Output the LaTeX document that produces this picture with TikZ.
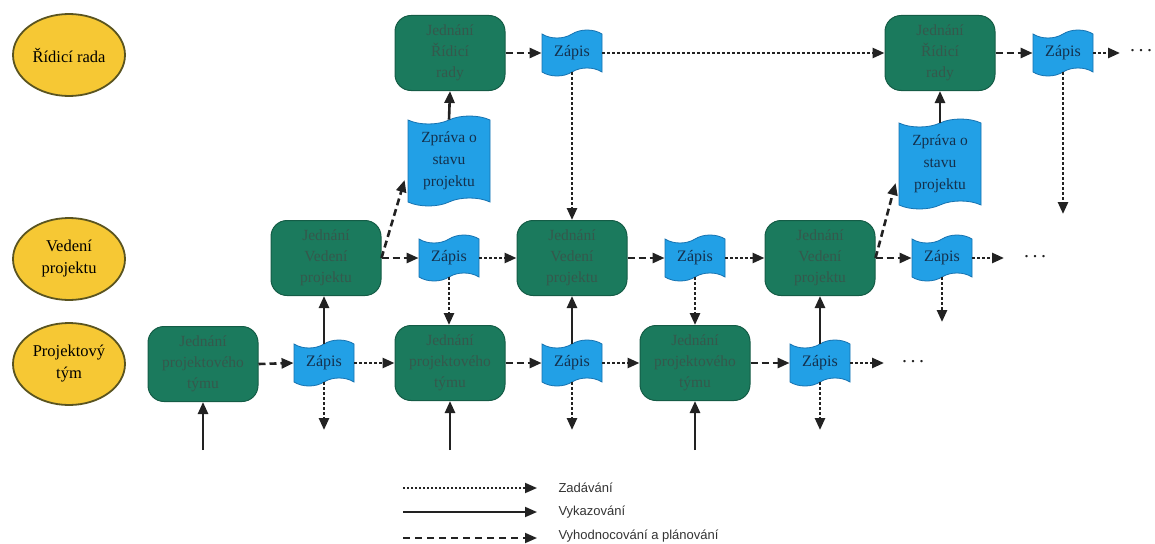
\documentclass[tikz,border=0pt]{standalone}
\usepackage{fontspec}
\setmainfont{Liberation Serif}
\setsansfont{Liberation Sans}
\usetikzlibrary{shapes.geometric,shapes.symbols,arrows.meta,calc}

\definecolor{rolefill}{HTML}{F6C834}
\definecolor{roleline}{HTML}{5A5420}
\definecolor{meetfill}{HTML}{1B7A5D}
\definecolor{meetline}{HTML}{145C46}
\definecolor{meettext}{HTML}{35584C}
\definecolor{docfill}{HTML}{22A0E6}
\definecolor{docline}{HTML}{1672B0}
\definecolor{doctext}{HTML}{14304C}
\definecolor{wire}{HTML}{222222}

\newcommand{\spaceddots}{.\hspace{3.5pt}.\hspace{3.5pt}.}

\begin{document}
\begin{tikzpicture}[x=1pt,y=-1pt,
  role/.style={ellipse, draw=roleline, line width=1.8pt, fill=rolefill,
    minimum width=112pt, minimum height=82pt, inner sep=0pt, align=center,
    font=\fontsize{16.5}{22}\selectfont},
  meeting/.style={rectangle, rounded corners=16pt, draw=meetline, line width=1pt,
    fill=meetfill, minimum width=110pt, minimum height=75pt, inner sep=0pt,
    align=center, text=meettext, font=\fontsize{15.5}{21}\selectfont},
  record/.style={tape, draw=docline, fill=docfill, line width=0.8pt,
    minimum width=60pt, minimum height=46pt, inner sep=0pt, tape bend height=8pt,
    text=doctext, font=\fontsize{16}{18}\selectfont},
  statusdoc/.style={record, minimum width=82pt, minimum height=90pt, align=center,
    font=\fontsize{15.5}{22}\selectfont},
  more/.style={font=\fontsize{20}{20}\selectfont, text=wire},
  tip/.style={draw=wire, line width=2.6pt, -{Triangle[length=12pt,width=10pt]}},
  assign/.style={tip, dash pattern=on 2.6pt off 2.4pt},
  submit/.style={tip},
  review/.style={tip, dash pattern=on 7pt off 4pt},
  keytext/.style={anchor=west, font=\sffamily\fontsize{13}{13}\selectfont, text=black!80}
]
\useasboundingbox (0,0) rectangle (1155,543);

% levels of the project organisation
\node[role] (board) at (69,55)  {Řídicí rada};
\node[role] (lead)  at (69,259) {Vedení\\projektu};
\node[role] (team)  at (69,364) {Projektový\\tým};

% steering board row
\node[meeting] (R1) at (450,53) {Jednání\\Řídicí\\rady};
\node[record]  (t1) at (572,53) {Zápis};
\node[meeting] (R2) at (940,53) {Jednání\\Řídicí\\rady};
\node[record]  (t2) at (1063,53) {Zápis};
\node[more]    (more1) at (1141,51) {\spaceddots};

% status reports
\node[statusdoc] (Z1) at (449,161) {Zpráva o\\stavu\\projektu};
\node[statusdoc] (Z2) at (940,164) {Zpráva o\\stavu\\projektu};

% project management row
\node[meeting] (V1) at (326,258) {Jednání\\Vedení\\projektu};
\node[record]  (m1) at (449,258) {Zápis};
\node[meeting] (V2) at (572,258) {Jednání\\Vedení\\projektu};
\node[record]  (m2) at (695,258) {Zápis};
\node[meeting] (V3) at (820,258) {Jednání\\Vedení\\projektu};
\node[record]  (m3) at (942,258) {Zápis};
\node[more]    (more2) at (1035,257) {\spaceddots};

% project team row
\node[meeting] (P1) at (203,364) {Jednání\\projektového\\týmu};
\node[record]  (b1) at (324,363) {Zápis};
\node[meeting] (P2) at (450,363) {Jednání\\projektového\\týmu};
\node[record]  (b2) at (572,363) {Zápis};
\node[meeting] (P3) at (695,363) {Jednání\\projektového\\týmu};
\node[record]  (b3) at (820,363) {Zápis};
\node[more]    (more3) at (913,362) {\spaceddots};

% loose ends
\coordinate (in1) at (203,450);
\coordinate (in2) at (450,450);
\coordinate (in3) at (695,450);
\coordinate (out1) at (324,430);
\coordinate (out2) at (572,430);
\coordinate (out3) at (820,430);
\coordinate (out4) at (942,322);
\coordinate (out5) at (1063,214);
\coordinate (end1) at (1120,53);
\coordinate (end2) at (1004,258);
\coordinate (end3) at (884,363);

% team level
\draw[submit] (in1) -- (P1.south);
\draw[review] (P1.east) -- (b1.west);
\draw[assign] (b1.east) -- (P2.west);
\draw[assign] (b1.south) -- (out1);
\draw[submit] (b1.north) -- (b1.north |- V1.south);
\draw[submit] (in2) -- (P2.south);
\draw[review] (P2.east) -- (b2.west);
\draw[assign] (b2.east) -- (P3.west);
\draw[assign] (b2.south) -- (out2);
\draw[submit] (b2.north) -- (V2.south);
\draw[submit] (in3) -- (P3.south);
\draw[review] (P3.east) -- (b3.west);
\draw[assign] (b3.east) -- (end3);
\draw[assign] (b3.south) -- (out3);
\draw[submit] (b3.north) -- (V3.south);

% management level
\draw[review] (V1.east) -- (m1.west);
\draw[review] (V1.east) -- ($(Z1.south west)+(-3,-22)$);
\draw[assign] (m1.east) -- (V2.west);
\draw[assign] (m1.south) -- (m1.south |- P2.north);
\draw[review] (V2.east) -- (m2.west);
\draw[assign] (m2.east) -- (V3.west);
\draw[assign] (m2.south) -- (P3.north);
\draw[review] (V3.east) -- (m3.west);
\draw[review] (V3.east) -- ($(Z2.south west)+(-3,-22)$);
\draw[assign] (m3.east) -- (end2);
\draw[assign] (m3.south) -- (out4);

% steering level
\draw[submit] (Z1.north) -- (R1.south);
\draw[review] (R1.east) -- (t1.west);
\draw[assign] (t1.east) -- (R2.west);
\draw[assign] (t1.south) -- (V2.north);
\draw[submit] (Z2.north) -- (R2.south);
\draw[review] (R2.east) -- (t2.west);
\draw[assign] (t2.east) -- (end1);
\draw[assign] (t2.south) -- (out5);

% key
\coordinate (k1a) at (403,488); \coordinate (k1b) at (537,488);
\coordinate (k2a) at (403,512); \coordinate (k2b) at (537,512);
\coordinate (k3a) at (403,538); \coordinate (k3b) at (537,538);
\draw[assign, line width=1.8pt, dash pattern=on 1.8pt off 2.2pt] (k1a) -- (k1b);
\draw[submit, line width=1.8pt] (k2a) -- (k2b);
\draw[tip, line width=1.8pt, dash pattern=on 7pt off 5pt] (k3a) -- (k3b);
\node[keytext] (key1) at (555,488) {Zadávání};
\node[keytext] (key2) at (555,512) {Vykazování};
\node[keytext] (key3) at (555,536) {Vyhodnocování a plánování};
\end{tikzpicture}
\end{document}
